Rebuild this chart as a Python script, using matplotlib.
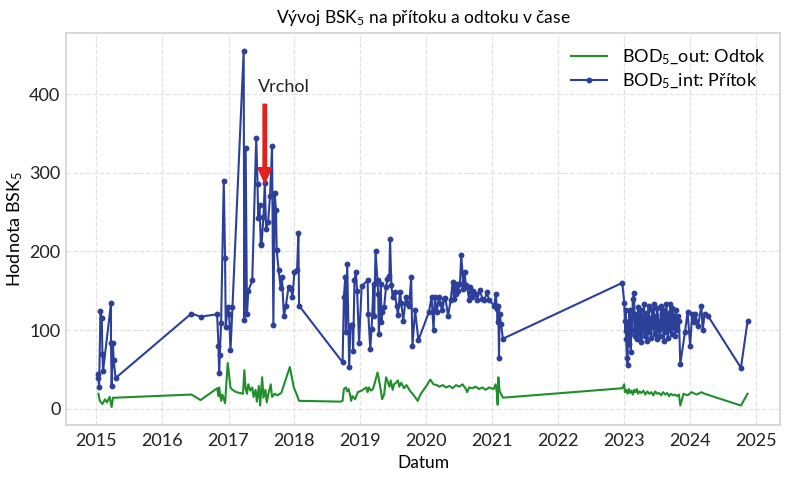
"""Vývoj BSK5 na přítoku a odtoku – recreated line chart (matplotlib only)."""

from datetime import datetime, timedelta

import matplotlib

matplotlib.use("Agg")
import matplotlib.dates as mdates
import matplotlib.pyplot as plt

# --- data (decimal years) --------------------------------------------------
in_years = [
    2015.03, 2015.03, 2015.04, 2015.06, 2015.08, 2015.09, 2015.10, 2015.22, 2015.22,
    2015.23, 2015.25, 2015.26, 2015.29, 2016.44, 2016.58, 2016.83, 2016.85, 2016.86,
    2016.87, 2016.89, 2016.93, 2016.95, 2016.96, 2016.99, 2017.01, 2017.03, 2017.06,
    2017.23, 2017.24, 2017.26, 2017.28, 2017.30, 2017.36, 2017.42, 2017.44, 2017.45,
    2017.47, 2017.49, 2017.50, 2017.53, 2017.55, 2017.57, 2017.60, 2017.63, 2017.66,
    2017.68, 2017.70, 2017.72, 2017.73, 2017.76, 2017.79, 2017.81, 2017.84, 2017.87,
    2017.91, 2017.95, 2017.97, 2018.00, 2018.04, 2018.06, 2018.07,
    2018.73, 2018.75, 2018.77, 2018.78, 2018.80, 2018.83, 2018.85, 2018.88, 2018.89,
    2018.91, 2018.93, 2018.95, 2018.98, 2019.02, 2019.11, 2019.12, 2019.15, 2019.17,
    2019.20, 2019.21, 2019.23, 2019.26, 2019.27, 2019.28, 2019.31, 2019.32, 2019.33,
    2019.36, 2019.39, 2019.41, 2019.44, 2019.45, 2019.47, 2019.49, 2019.52, 2019.55,
    2019.57, 2019.60, 2019.62, 2019.65, 2019.69, 2019.71, 2019.74, 2019.77, 2019.79,
    2019.83, 2019.88, 2020.04, 2020.08, 2020.11, 2020.13, 2020.16, 2020.19, 2020.22,
    2020.24, 2020.27, 2020.29, 2020.33, 2020.37, 2020.40, 2020.42, 2020.43, 2020.45,
    2020.46, 2020.48, 2020.51, 2020.53, 2020.55, 2020.56, 2020.58, 2020.60, 2020.62,
    2020.65, 2020.67, 2020.70, 2020.71, 2020.75, 2020.77, 2020.81, 2020.85, 2020.88,
    2020.92, 2020.95, 2021.03, 2021.05, 2021.07, 2021.08, 2021.09, 2021.10, 2021.11,
    2021.13, 2021.16,
    2022.97, 2023.00, 2023.01, 2023.02, 2023.02, 2023.03, 2023.04, 2023.05, 2023.06,
    2023.07, 2023.08, 2023.09, 2023.10, 2023.11, 2023.12, 2023.13, 2023.15, 2023.16,
    2023.17, 2023.18, 2023.19, 2023.21, 2023.22, 2023.23, 2023.25, 2023.26, 2023.27,
    2023.29, 2023.30, 2023.31, 2023.33, 2023.34, 2023.35, 2023.37, 2023.38, 2023.39,
    2023.41, 2023.42, 2023.44, 2023.45, 2023.46, 2023.48, 2023.49, 2023.50, 2023.52,
    2023.53, 2023.54, 2023.56, 2023.57, 2023.58, 2023.60, 2023.61, 2023.62, 2023.64,
    2023.65, 2023.66, 2023.68, 2023.69, 2023.70, 2023.72, 2023.73, 2023.74, 2023.76,
    2023.77, 2023.78, 2023.80, 2023.81, 2023.83, 2023.85, 2023.92, 2023.96, 2024.00,
    2024.03, 2024.06, 2024.08, 2024.12, 2024.17, 2024.19, 2024.22, 2024.27,
    2024.77, 2024.87,
]
in_values = [
    44, 39, 28, 124, 115, 70, 48, 134, 83,
    29, 83, 62, 39, 121, 117, 120, 80, 45,
    68, 109, 290, 191, 104, 129, 121, 74, 129,
    455, 113, 332, 120, 150, 163, 344, 286, 242,
    259, 210, 208, 244, 287, 229, 237, 271, 334,
    106, 274, 252, 202, 176, 154, 167, 118, 131,
    155, 152, 142, 174, 176, 223, 131,
    59, 142, 167, 98, 184, 53, 106, 106, 73,
    163, 174, 150, 84, 156, 163, 121, 76, 101,
    158, 118, 200, 163, 146, 95, 159, 110, 123,
    129, 155, 165, 169, 216, 157, 142, 148, 131,
    119, 148, 135, 112, 142, 135, 131, 167, 80,
    125, 87, 123, 142, 100, 142, 123, 142, 133,
    125, 140, 141, 118, 138, 161, 140, 155, 146,
    159, 150, 159, 195, 172, 152, 174, 157, 155,
    138, 155, 142, 150, 146, 138, 151, 140, 138,
    148, 138, 131, 146, 127, 110, 131, 65, 121,
    108, 89,
    160, 135, 112, 99, 125, 88, 65, 55, 110,
    82, 125, 95, 72, 118, 100, 140, 147, 92,
    120, 105, 88, 129, 110, 95, 125, 85, 118,
    100, 133, 92, 122, 108, 86, 130, 98, 115,
    90, 125, 104, 133, 95, 118, 88, 128, 100,
    112, 92, 131, 105, 120, 86, 125, 98, 133,
    110, 90, 122, 100, 133, 95, 128, 104, 118,
    92, 126, 100, 118, 112, 57, 97, 123, 80,
    120, 110, 120, 105, 131, 100, 121, 118,
    52, 111,
]

out_years = [
    2015.03, 2015.05, 2015.09, 2015.13, 2015.16, 2015.20, 2015.23, 2015.25, 2015.29,
    2016.44, 2016.58, 2016.83, 2016.85, 2016.86, 2016.89, 2016.91, 2016.95, 2016.99,
    2017.03, 2017.06, 2017.12, 2017.22, 2017.24, 2017.26, 2017.28, 2017.30, 2017.33,
    2017.36, 2017.38, 2017.41, 2017.43, 2017.46, 2017.48, 2017.51, 2017.53, 2017.56,
    2017.58, 2017.61, 2017.64, 2017.66, 2017.70, 2017.74, 2017.80, 2017.93, 2017.99,
    2018.03, 2018.07, 2018.70, 2018.73, 2018.75, 2018.78, 2018.80, 2018.82, 2018.84,
    2018.86, 2018.88, 2018.92, 2018.96, 2019.02, 2019.09, 2019.11, 2019.13, 2019.16,
    2019.19, 2019.22, 2019.26, 2019.28, 2019.31, 2019.33, 2019.36, 2019.39, 2019.42,
    2019.44, 2019.46, 2019.49, 2019.51, 2019.54, 2019.57, 2019.59, 2019.62, 2019.66,
    2019.70, 2019.75, 2019.80, 2019.87, 2019.91, 2019.96, 2020.01, 2020.06, 2020.11,
    2020.16, 2020.20, 2020.25, 2020.30, 2020.35, 2020.40, 2020.45, 2020.50, 2020.55,
    2020.60, 2020.62, 2020.65, 2020.70, 2020.75, 2020.80, 2020.85, 2020.90, 2020.95,
    2021.02, 2021.05, 2021.07, 2021.08, 2021.09, 2021.11, 2021.16,
    2022.97, 2023.00, 2023.01, 2023.03, 2023.05, 2023.07, 2023.09, 2023.11, 2023.13,
    2023.15, 2023.17, 2023.19, 2023.21, 2023.23, 2023.26, 2023.29, 2023.32, 2023.35,
    2023.38, 2023.41, 2023.44, 2023.47, 2023.50, 2023.53, 2023.56, 2023.59, 2023.62,
    2023.65, 2023.68, 2023.71, 2023.74, 2023.77, 2023.80, 2023.83, 2023.85, 2023.90,
    2023.96, 2024.02, 2024.10, 2024.17, 2024.22, 2024.77, 2024.87,
]
out_values = [
    19, 10, 6, 12, 8, 15, 2, 14, 14,
    18, 11, 26, 16, 27, 10, 18, 7, 58,
    27, 24, 21, 19, 49, 25, 19, 31, 23,
    27, 15, 24, 9, 29, 4, 40, 14, 24,
    8, 21, 31, 15, 19, 17, 20, 53, 27,
    19, 10, 9, 10, 25, 27, 22, 25, 19,
    10, 16, 12, 21, 23, 27, 21, 27, 23,
    25, 33, 46, 38, 23, 12, 18, 40, 33,
    28, 36, 24, 31, 33, 36, 28, 33, 26,
    30, 23, 18, 10, 18, 24, 30, 37, 31,
    30, 28, 30, 27, 29, 26, 30, 28, 31,
    25, 21, 27, 26, 28, 25, 27, 24, 27,
    25, 31, 19, 5, 40, 22, 14,
    26, 31, 21, 24, 19, 25, 20, 23, 18,
    24, 21, 25, 19, 22, 20, 23, 18, 22,
    19, 21, 17, 22, 19, 20, 17, 21, 18,
    20, 16, 19, 17, 18, 16, 18, 4, 19,
    17, 21, 18, 21, 19, 4, 19,
]

peak_year = 2017.55
peak_value = 287


def to_dates(years):
    """Turn decimal years into datetimes."""
    out = []
    for y in years:
        start = datetime(int(y), 1, 1)
        out.append(start + timedelta(days=(y - int(y)) * 365.25))
    return out


plt.rcParams["font.family"] = ["Lato", "DejaVu Sans"]
plt.rcParams["mathtext.fontset"] = "custom"
plt.rcParams["mathtext.rm"] = "Lato"
plt.rcParams["mathtext.it"] = "Lato:italic"

fig = plt.figure(figsize=(8, 4.78), dpi=100)
ax = fig.add_axes([0.0825, 0.111, 0.8925, 0.82])

ax.plot(to_dates(out_years), out_values, color="#1f8f2b", lw=1.5,
        label="BOD$_5$_out: Odtok")
ax.plot(to_dates(in_years), in_values, color="#2c4099", lw=1.5,
        marker="o", markersize=3.2, label="BOD$_5$_int: Přítok")

peak_date = to_dates([peak_year])[0]
ax.annotate("", xy=(peak_date, peak_value), xytext=(peak_date, peak_value + 100),
            arrowprops=dict(facecolor="#e3201b", edgecolor="#e3201b",
                            width=2.5, headwidth=10, headlength=11))
ax.text(to_dates([peak_year - 0.11])[0], peak_value + 112, "Vrchol",
        fontsize=13, ha="left", va="bottom", color="#222222")

ax.xaxis.set_major_locator(mdates.YearLocator())
ax.xaxis.set_major_formatter(mdates.DateFormatter("%Y"))
ax.set_yticks([0, 100, 200, 300, 400])

ax.grid(True, ls="--", color="#e2e2e2", lw=0.9)
ax.set_axisbelow(True)
ax.tick_params(length=0, labelsize=13, colors="#222222")
ax.tick_params(axis="x", pad=6)
ax.tick_params(axis="y", pad=4)
for spine in ax.spines.values():
    spine.set_color("#d6d6d6")
    spine.set_linewidth(1.3)

ax.set_title("Vývoj BSK$_5$ na přítoku a odtoku v čase", fontsize=12.5, pad=7)
ax.set_xlabel("Datum", fontsize=12.5, labelpad=4)
ax.set_ylabel("Hodnota BSK$_5$", fontsize=13)
ax.yaxis.set_label_coords(-0.058, 0.5)
ax.legend(loc="upper right", frameon=False, fontsize=13, handlelength=2.0,
          borderaxespad=0.4, labelspacing=0.25)

fig.savefig("out.png", dpi=100)
plt.close(fig)
